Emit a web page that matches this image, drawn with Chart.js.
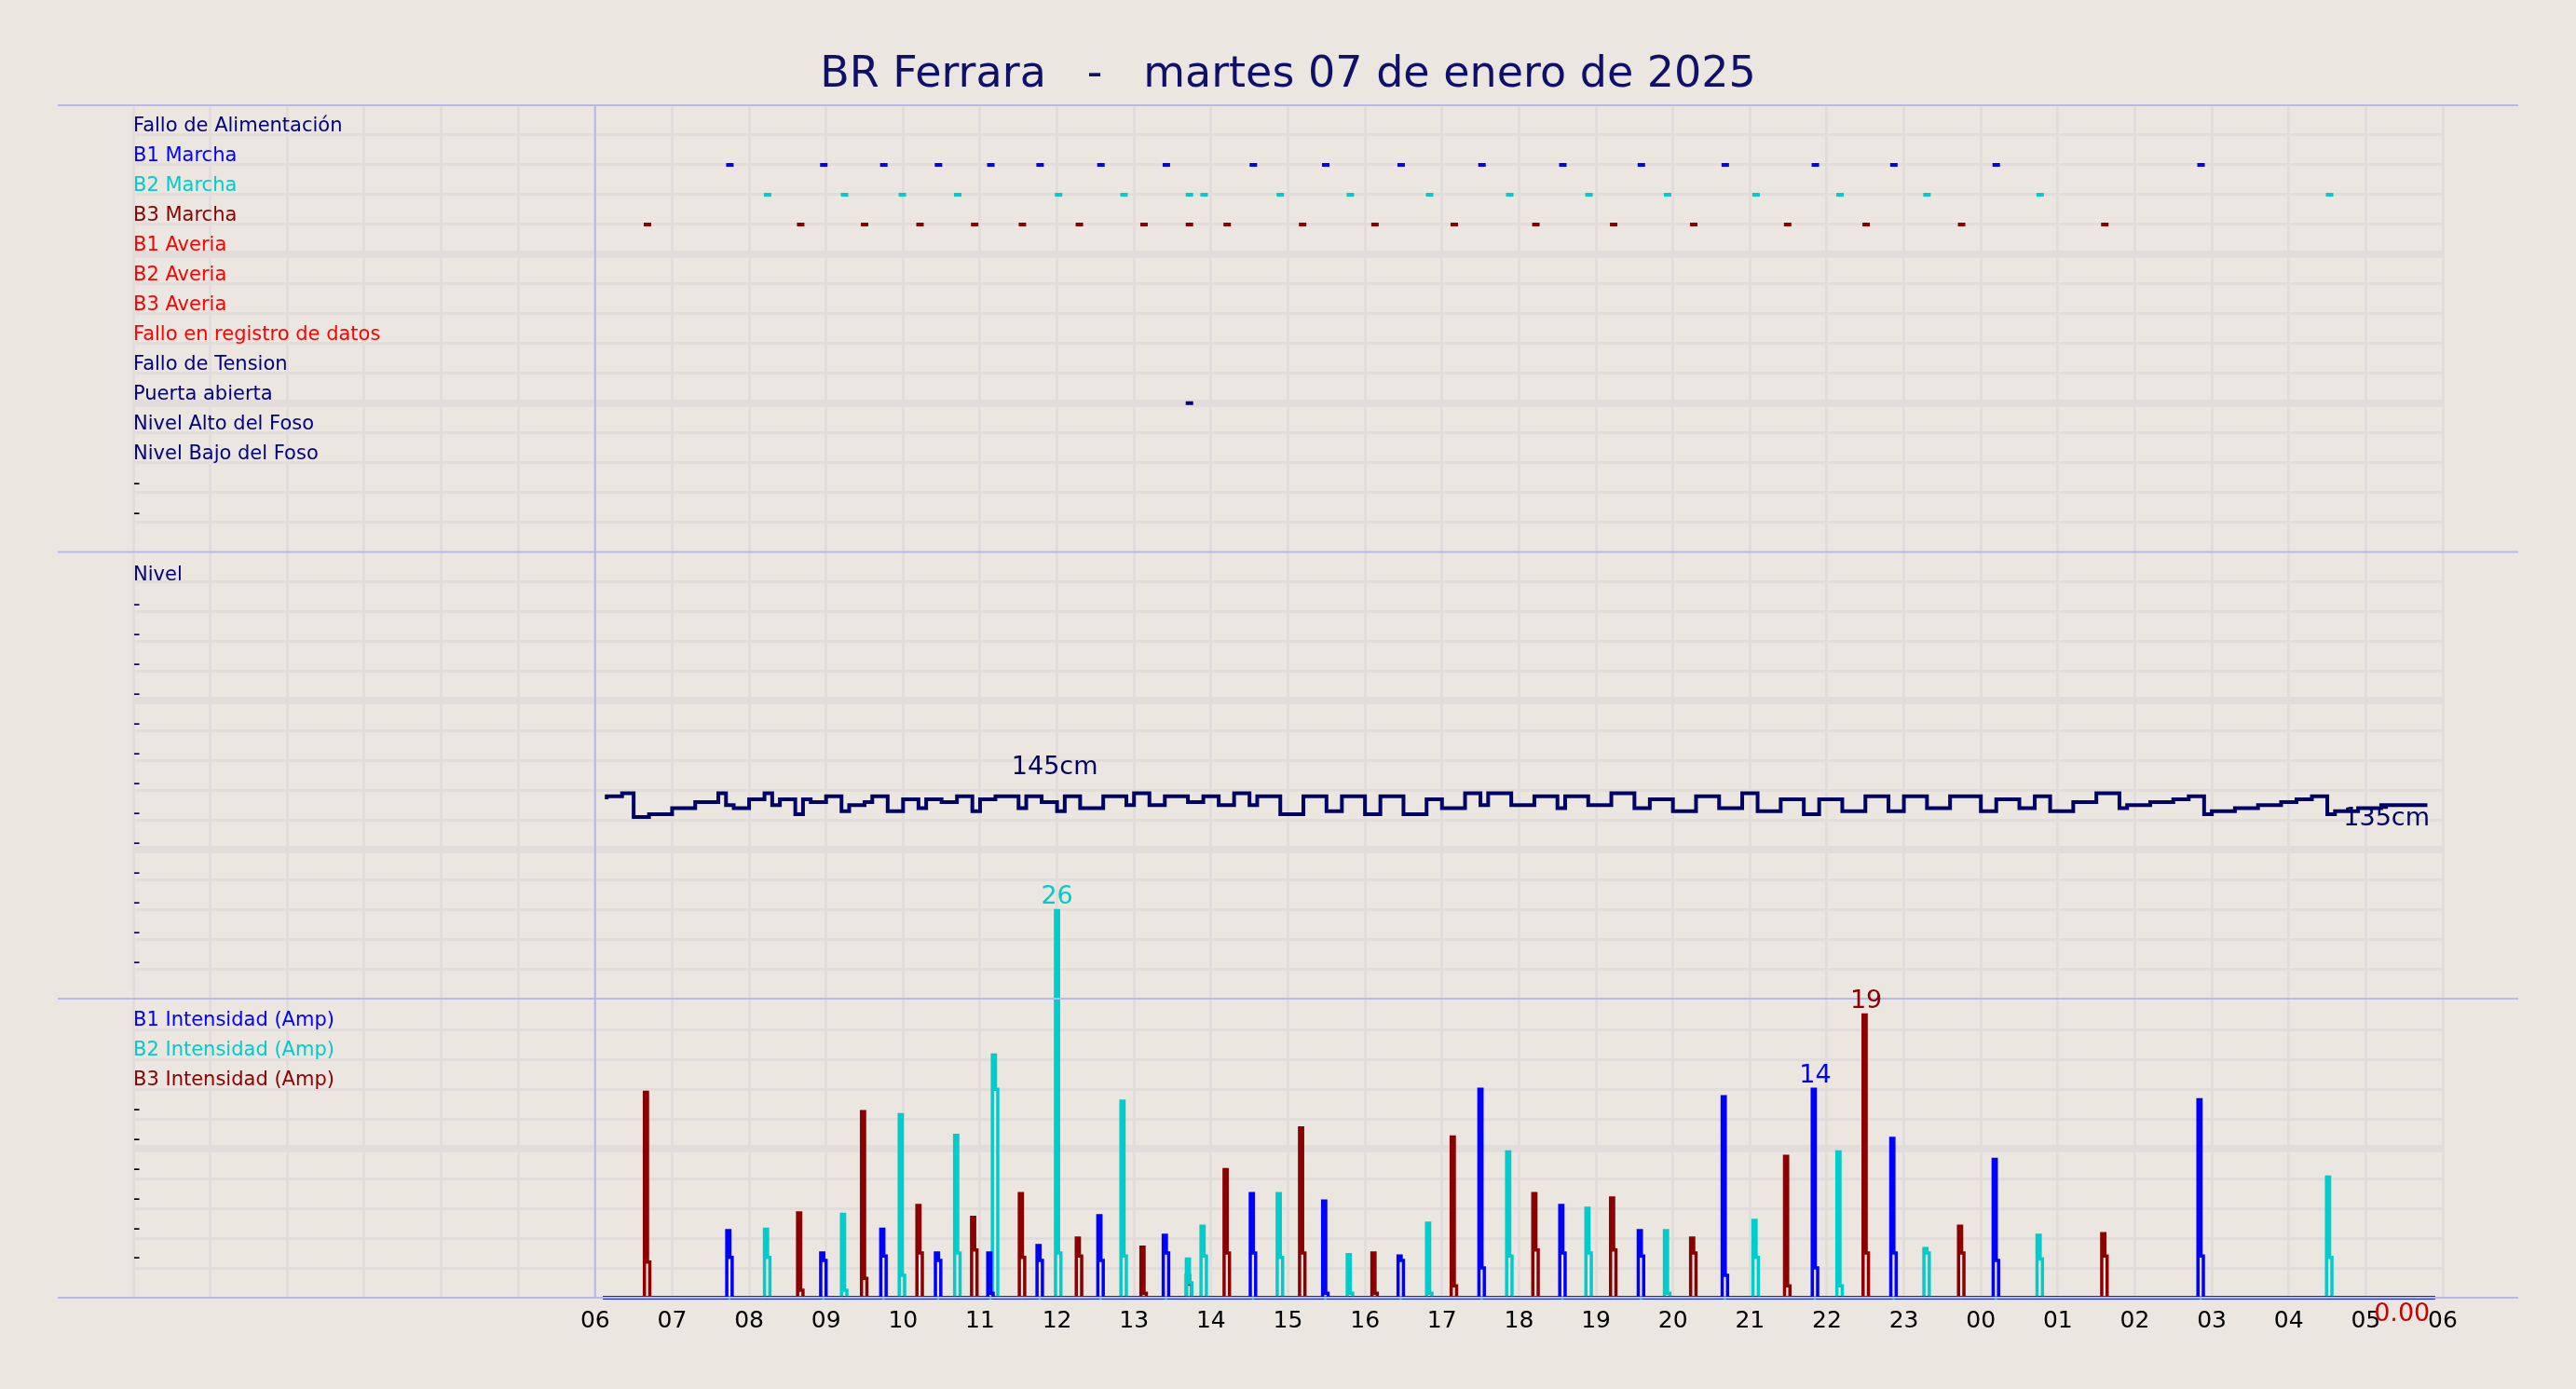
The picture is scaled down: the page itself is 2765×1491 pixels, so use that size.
<!DOCTYPE html>
<html>
<head>
<meta charset="utf-8">
<script src="https://cdn.jsdelivr.net/npm/chart.js@4"></script>
<style>
  html, body { margin: 0; padding: 0; background: #ebe6e0; }
  #wrap { width: 2765px; height: 1491px; }
</style>
</head>
<body>
<div id="wrap"><canvas id="chart"></canvas></div>
<script>
// ---- data ----
var eventRows = ['Fallo de Alimentación', 'B1 Marcha', 'B2 Marcha', 'B3 Marcha', 'B1 Averia', 'B2 Averia',
    'B3 Averia', 'Fallo en registro de datos', 'Fallo de Tension', 'Puerta abierta', 'Nivel Alto del Foso', 'Nivel Bajo del Foso'];
var eventColors = ['#000080', '#0000ff', '#00cccc', '#8b0000', '#ff0000', '#ff0000',
    '#ff0000', '#ff0000', '#000080', '#000080', '#000080', '#000080'];

var b1Marcha = [7.75, 8.97, 9.75, 10.46, 11.14, 11.78, 12.57, 13.42, 14.55, 15.49, 16.47, 17.52, 18.57, 19.59, 20.68, 21.85, 22.87, 24.20, 26.86];
var b2Marcha = [8.24, 9.24, 9.99, 10.71, 12.02, 12.87, 13.72, 13.91, 14.90, 15.81, 16.84, 17.88, 18.91, 19.93, 21.08, 22.17, 23.30, 24.77, 28.53];
var b3Marcha = [6.68, 8.67, 9.50, 10.22, 10.93, 11.55, 12.29, 13.13, 13.72, 14.21, 15.19, 16.13, 17.16, 18.22, 19.23, 20.27, 21.49, 22.51, 23.75, 25.61];
var puertaAbierta = [13.72];

// nivel [hora, cm]
var levelData = [[6.15,142],[6.35,143],[6.5,144],[6.7,136],[7.0,137],[7.3,139],[7.6,141],[7.7,144],[7.8,140],[8.0,139],
    [8.2,142],[8.3,144],[8.4,140],[8.6,142],[8.7,137],[8.8,142],[9.0,141],[9.2,143],[9.3,138],[9.5,140],[9.6,141],
    [9.8,143],[10.0,138],[10.2,142],[10.3,139],[10.5,142],[10.7,141],[10.9,143],[11.0,138],[11.2,142],[11.5,143],
    [11.6,139],[11.8,143],[12.0,141],[12.1,138],[12.3,143],[12.6,139],[12.9,143],[13.0,140],[13.2,144],[13.4,140],
    [13.7,143],[13.9,141],[14.1,143],[14.3,140],[14.5,144],[14.6,140],[14.9,143],[15.2,137],[15.5,143],[15.7,138],
    [16.0,143],[16.2,137],[16.5,143],[16.8,137],[17.0,142],[17.3,139],[17.5,144],[17.6,140],[17.9,144],[18.2,140],
    [18.5,143],[18.6,139],[18.9,143],[19.2,140],[19.5,144],[19.7,139],[20.0,142],[20.3,138],[20.6,143],[20.9,139],
    [21.1,144],[21.4,138],[21.7,142],[21.9,137],[22.2,142],[22.5,138],[22.8,143],[23.0,138],[23.3,143],[23.6,139],
    [24.0,143],[24.2,138],[24.5,142],[24.7,139],[24.9,143],[25.2,138],[25.5,141],[25.8,144],[25.9,139],[26.2,140],
    [26.5,141],[26.7,142],[26.9,143],[27.0,137],[27.3,138],[27.6,139],[27.9,140],[28.1,141],[28.3,142],[28.5,143],
    [28.6,137],[28.9,138],[29.2,139],[29.5,140],[29.8,140]];
var levelTicks = [85, 95, 105, 115, 125, 135, 145, 155, 165, 175, 185, 195, 205, 215];

// intensidad: [hora, pico, meseta]
var b1Pulses = [[7.75,4.5,2.7],[8.97,3.0,2.5],[9.75,4.6,2.8],[10.46,3.0,2.5],[11.14,3.0,0.3],[11.78,3.5,2.5],
    [12.57,5.5,2.5],[13.42,4.2,3.0],[14.55,7.0,3.0],[15.49,6.5,0.3],[16.47,2.8,2.5],[17.52,14.0,2.0],[18.57,6.2,3.0],
    [19.59,4.5,2.8],[20.68,13.5,1.5],[21.85,14.0,2.0],[22.87,10.7,3.0],[24.20,9.3,2.5],[26.86,13.3,2.8]];
var b2Pulses = [[8.24,4.6,2.7],[9.24,5.6,0.5],[9.99,12.3,1.5],[10.71,10.9,3.0],[11.2,16.3,14.0],[12.02,26.0,3.0],
    [12.87,13.2,2.8],[13.72,2.6,1.0],[13.91,4.8,2.8],[14.90,7.0,2.7],[15.81,2.9,0.3],[16.84,5.0,0.3],[17.88,9.8,2.8],
    [18.91,6.0,3.0],[19.93,4.5,0.3],[21.08,5.2,2.7],[22.17,9.8,0.8],[23.30,3.3,3.0],[24.77,4.2,2.6],[28.53,8.1,2.7]];
var b3Pulses = [[6.68,13.8,2.4],[8.67,5.7,0.5],[9.50,12.5,1.3],[10.22,6.2,3.0],[10.93,5.4,3.2],[11.55,7.0,2.7],
    [12.29,4.0,2.8],[13.13,3.4,0.3],[13.72,1.5,0.9],[14.21,8.6,3.0],[15.19,11.4,3.0],[16.13,3.0,0.3],[17.16,10.8,0.8],
    [18.22,7.0,3.2],[19.23,6.7,3.2],[20.27,4.0,3.0],[21.49,9.5,0.8],[22.51,19.0,3.0],[23.75,4.8,3.0],[25.61,4.3,2.8]];
var ampLabels = { 18: 'B1 Intensidad (Amp)', 16: 'B2 Intensidad (Amp)', 14: 'B3 Intensidad (Amp)' };
var ampColors = { 18: '#0000ff', 16: '#00cccc', 14: '#8b0000' };

var hourTicks = [];
for (var h = 0; h <= 30; h++) hourTicks.push(h);

var titleText = 'BR Ferrara   -   martes 07 de enero de 2025';
var notes = [
    { text: '145cm', x: 11.97, y: 152.5, axis: 'yLv', color: '#000066' },
    { text: '135cm', x: 29.27, y: 135.3, axis: 'yLv', color: '#000066' },
    { text: '26', x: 12.0, y: 26.9, axis: 'yAmp', color: '#00cccc' },
    { text: '14', x: 21.85, y: 14.9, axis: 'yAmp', color: '#0000ff' },
    { text: '19', x: 22.51, y: 19.9, axis: 'yAmp', color: '#8b0000' },
    { text: '0.00', x: 29.47, y: -1.1, axis: 'yAmp', color: '#cc0000' }
];

// ---- helpers ----
function pulsesToSteps(pulses) {
    var pts = [{ x: 6.1, y: 0 }];
    pulses.forEach(function (p) {
        pts.push({ x: p[0] - 0.04, y: 0 });
        pts.push({ x: p[0], y: p[1] });
        pts.push({ x: p[0] + 0.03, y: p[2] });
        pts.push({ x: p[0] + 0.2, y: 0 });
    });
    pts.push({ x: 29.9, y: 0 });
    return pts;
}

function eventSet(times, row, color) {
    return {
        type: 'scatter', yAxisID: 'yEv', data: times.map(function (t) { return { x: t, y: row }; }),
        pointStyle: 'line', radius: 4, borderWidth: 4, borderColor: color, backgroundColor: color
    };
}

function ampSet(pulses, color) {
    return {
        type: 'line', yAxisID: 'yAmp', data: pulsesToSteps(pulses), stepped: 'after',
        borderColor: color, borderWidth: 3.5, pointRadius: 0, fill: false, clip: false
    };
}

var gridColor = '#e2dddb';
var fitZero = function (s) { s.width = 0; };
var FONT = 'DejaVu Sans';

var panelPlugin = {
    id: 'panels',
    beforeDraw: function (chart) {
        var c = chart.ctx;
        c.save();
        c.fillStyle = '#ebe6e0';
        c.fillRect(0, 0, chart.width, chart.height);
        c.restore();
    },
    afterDraw: function (chart) {
        var c = chart.ctx, a = chart.chartArea, s = chart.scales;
        c.save();
        c.strokeStyle = '#b8b8f0';
        c.lineWidth = 2;
        [s.yEv.top, s.yLv.top, s.yAmp.top, s.yAmp.bottom].forEach(function (y) {
            c.beginPath(); c.moveTo(62, y); c.lineTo(2703, y); c.stroke();
        });
        var x6 = s.x.getPixelForValue(6);
        c.beginPath(); c.moveTo(x6, a.top); c.lineTo(x6, a.bottom); c.stroke();

        c.fillStyle = '#10106a';
        c.font = '46px ' + FONT;
        c.textAlign = 'center';
        c.textBaseline = 'middle';
        c.fillText(titleText, chart.width / 2, 81);

        c.font = '27px ' + FONT;
        notes.forEach(function (n) {
            c.fillStyle = n.color;
            c.fillText(n.text, s.x.getPixelForValue(n.x), s[n.axis].getPixelForValue(n.y));
        });
        c.restore();
    }
};

var datasets = [];
datasets.push(eventSet(b1Marcha, 1, '#0000ff'));
datasets.push(eventSet(b2Marcha, 2, '#00cccc'));
datasets.push(eventSet(b3Marcha, 3, '#8b0000'));
datasets.push(eventSet(puertaAbierta, 9, '#000080'));
datasets.push({
    type: 'line', yAxisID: 'yLv', data: levelData.map(function (p) { return { x: p[0], y: p[1] }; }),
    stepped: 'after', borderColor: '#000066', borderWidth: 4, pointRadius: 0, fill: false
});
datasets.push(ampSet(b1Pulses, '#0000ff'));
datasets.push(ampSet(b2Pulses, '#00cccc'));
datasets.push(ampSet(b3Pulses, '#8b0000'));

new Chart(document.getElementById('chart'), {
    data: { datasets: datasets },
    plugins: [panelPlugin],
    options: {
        responsive: true, maintainAspectRatio: false, devicePixelRatio: 1, animation: false,
        layout: { padding: { left: 143, right: 143, top: 113, bottom: 0 } },
        plugins: { legend: { display: false }, tooltip: { enabled: false } },
        scales: {
            x: {
                type: 'linear', min: 0, max: 30,
                afterBuildTicks: function (s) { s.ticks = hourTicks.map(function (v) { return { value: v }; }); },
                afterFit: function (s) { s.height = 98; },
                grid: { color: gridColor, lineWidth: 3, drawTicks: false },
                border: { display: false },
                ticks: {
                    autoSkip: false, maxRotation: 0, color: '#000', padding: 10, font: { family: FONT, size: 25 },
                    callback: function (v) { return v >= 6 ? String(v % 24).padStart(2, '0') : ''; }
                }
            },
            // stacked panels: first listed ends up at the bottom
            yAmp: {
                type: 'linear', position: 'left', stack: 'p', stackWeight: 182, min: 0, max: 20.08,
                afterBuildTicks: function (s) { var t = []; for (var i = 2; i <= 18; i += 2) t.push({ value: i }); s.ticks = t; },
                afterFit: fitZero,
                grid: { color: gridColor, drawTicks: false, lineWidth: function (c) { return (c.tick && c.tick.value === 10) ? 8 : 3; } },
                border: { display: false },
                ticks: {
                    mirror: true, padding: 0, labelOffset: -10, autoSkip: false, font: { family: FONT, size: 21 },
                    color: function (c) { return ampColors[c.tick.value] || '#000'; },
                    callback: function (v) { return ampLabels[v] || '-'; }
                }
            },
            yLv: {
                type: 'linear', position: 'left', stack: 'p', stackWeight: 272, min: 75, max: 225,
                afterBuildTicks: function (s) { s.ticks = levelTicks.map(function (v) { return { value: v }; }); },
                afterFit: fitZero,
                grid: { color: gridColor, drawTicks: false, lineWidth: function (c) { return (c.tick && (c.tick.value === 125 || c.tick.value === 175)) ? 8 : 3; } },
                border: { display: false },
                ticks: {
                    mirror: true, padding: 0, labelOffset: -7, autoSkip: false, color: '#000080', font: { family: FONT, size: 21 },
                    callback: function (v) { return v === 215 ? 'Nivel' : '-'; }
                }
            },
            yEv: {
                type: 'linear', position: 'left', stack: 'p', stackWeight: 272, reverse: true, min: -1, max: 14,
                afterBuildTicks: function (s) { var t = []; for (var i = 0; i <= 13; i++) t.push({ value: i }); s.ticks = t; },
                afterFit: fitZero,
                grid: { color: gridColor, drawTicks: false, lineWidth: function (c) { return (c.tick && (c.tick.value === 4 || c.tick.value === 9)) ? 8 : 3; } },
                border: { display: false },
                ticks: {
                    mirror: true, padding: 0, labelOffset: -9, autoSkip: false, font: { family: FONT, size: 21 },
                    color: function (c) { return eventColors[c.tick.value] || '#000'; },
                    callback: function (v) { return eventRows[v] !== undefined ? eventRows[v] : '-'; }
                }
            }
        }
    }
});
</script>
</body>
</html>
